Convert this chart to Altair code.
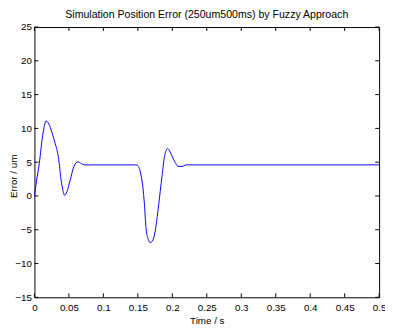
import altair as alt
import pandas as pd

# data
time_s = [0, 0.003, 0.007, 0.012, 0.017, 0.022, 0.026, 0.030, 0.033, 0.036, 0.038, 0.041,
          0.0436, 0.047, 0.052, 0.057, 0.063, 0.068, 0.073, 0.08, 0.145, 0.149, 0.154,
          0.159, 0.162, 0.165, 0.168, 0.171, 0.175, 0.180, 0.185, 0.189, 0.193, 0.196,
          0.199, 0.204, 0.208, 0.214, 0.220, 0.23, 0.5]
error_um = [0, 2.2, 4.8, 9.0, 11.1, 10.4, 9.2, 7.8, 6.7, 4.8, 2.9, 1.0,
            0.1, 0.6, 2.4, 4.3, 5.05, 4.8, 4.6, 4.6, 4.6, 4.56, 3.4,
            -0.5, -4.9, -6.4, -6.9, -6.7, -5.3, -1.5, 2.9, 6.0, 7.0, 6.7,
            6.0, 5.0, 4.4, 4.35, 4.6, 4.6, 4.6]
x_ticks = [0, 0.05, 0.1, 0.15, 0.2, 0.25, 0.3, 0.35, 0.4, 0.45, 0.5]
y_ticks = [-15, -10, -5, 0, 5, 10, 15, 20, 25]

W, H = 352, 276
FONT = "Liberation Sans"

df = pd.DataFrame({"t": time_s, "e": error_um})
xt = pd.DataFrame({"t": x_ticks})
yt = pd.DataFrame({"e": y_ticks})

xscale = alt.Scale(domain=[0, 0.5], nice=False, zero=False)
yscale = alt.Scale(domain=[-15, 25], nice=False, zero=False)

xaxis = alt.Axis(title="Time / s", values=x_ticks, format="~g", ticks=False,
                 domain=False, grid=False, labelPadding=5, titlePadding=4,
                 labelFontSize=10, titleFontSize=10, titleFontWeight="normal",
                 labelFont=FONT, titleFont=FONT, labelColor="black", titleColor="black",
                 labelFlush=False, labelOverlap=False)
yaxis = alt.Axis(title="Error / um", values=y_ticks, ticks=False, domain=False,
                 grid=False, labelPadding=3, titleX=-16, titleY=152, titleBaseline="bottom",
                 labelFontSize=10, titleFontSize=10, titleFontWeight="normal",
                 labelFont=FONT, titleFont=FONT, labelColor="black", titleColor="black",
                 labelFlush=False, labelOverlap=False)

X = lambda: alt.X("t:Q", scale=xscale, axis=xaxis, title="Time / s")
Y = lambda: alt.Y("e:Q", scale=yscale, axis=yaxis, title="Error / um")

line = alt.Chart(df).mark_line(color="#0000ff", strokeWidth=1, interpolate="monotone").encode(
    x=X(), y=Y())

tick_len = 4
bottom = alt.Chart(xt).mark_rule(color="black", strokeWidth=1).encode(
    x=X(), y=alt.value(H), y2=alt.value(H - tick_len))
top = alt.Chart(xt).mark_rule(color="black", strokeWidth=1).encode(
    x=X(), y=alt.value(0), y2=alt.value(tick_len))
left = alt.Chart(yt).mark_rule(color="black", strokeWidth=1).encode(
    y=Y(), x=alt.value(0), x2=alt.value(tick_len))
right = alt.Chart(yt).mark_rule(color="black", strokeWidth=1).encode(
    y=Y(), x=alt.value(W), x2=alt.value(W - tick_len))

chart = alt.layer(line, bottom, top, left, right).properties(
    width=W, height=H,
    title=alt.Title("Simulation Position Error (250um500ms) by Fuzzy Approach",
                    font=FONT, fontSize=10.8, fontWeight="normal", color="black",
                    anchor="middle", offset=2),
    autosize=alt.AutoSizeParams(type="none"),
    padding={"left": 27, "top": 16, "right": 6, "bottom": 33},
    background="white",
).configure_view(stroke="black", strokeWidth=1)

chart.save("out.html", embed_options={"renderer": "svg", "actions": False})
